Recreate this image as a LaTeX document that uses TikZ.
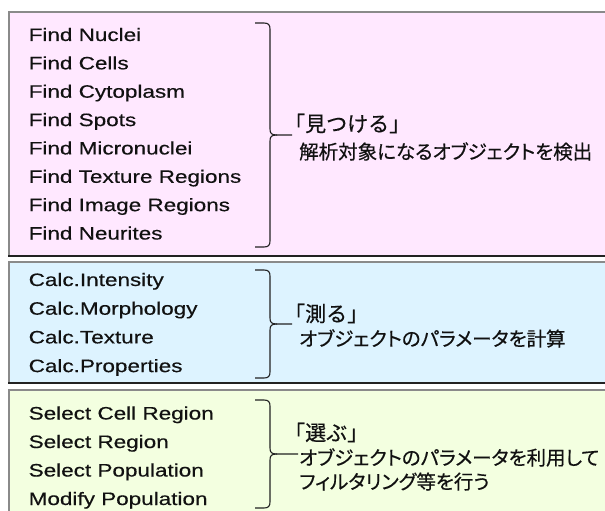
\documentclass[tikz,border=0pt]{standalone}
\usepackage{fontspec}
\setmainfont{Liberation Sans}[FakeStretch=1.25,FakeBold=0.4]
\newfontfamily\jpfont{Noto Sans CJK JP}[RawFeature=+palt,FakeBold=0.5]
\newfontfamily\jpfontfull{Noto Sans CJK JP}[FakeBold=0.5]
\definecolor{pinkfill}{HTML}{FFE8FF}
\definecolor{bluefill}{HTML}{DDF3FF}
\definecolor{greenfill}{HTML}{F3FFE0}
\definecolor{edgegray}{HTML}{8A8A8A}
\definecolor{edgedark}{HTML}{222222}
\definecolor{inkcol}{HTML}{111111}
\newcommand\drawbrace[4]{%
  \draw[bracestyle] (255,#1) -- (264,#1) .. controls (268.5,#1) and (270,{#1+2}) .. (270,{#1+6})
    -- (270,{#2-6}) .. controls (270,{#2-1.5}) and (271.5,#2) .. (277,#2) -- (#4,#2);
  \draw[bracestyle] (277,#2) .. controls (271.5,#2) and (270,{#2+1.5}) .. (270,{#2+6})
    -- (270,{#3-6}) .. controls (270,{#3-2}) and (268.5,#3) .. (264,#3) -- (255,#3);}
\begin{document}
\begin{tikzpicture}[x=1pt,y=-1pt,
  item/.style={anchor=base west,inner sep=0pt,text=inkcol,font=\fontsize{18}{21}\selectfont},
  jptext/.style={anchor=base west,inner sep=0pt,text=inkcol,font=\jpfont\fontsize{19.5}{23}\selectfont},
  jphead/.style={anchor=base west,inner sep=0pt,text=inkcol,font=\jpfontfull\fontsize{21}{24}\selectfont},
  topedge/.style={draw=edgegray,line width=1.6pt},
  botedge/.style={draw=edgedark,line width=1.6pt},
  bracestyle/.style={draw=edgedark,line width=1.1pt}]
\useasboundingbox (0,0) rectangle (605,511);
\fill[white] (0,0) rectangle (605,511);
% boxes
\fill[pinkfill] (9,12) rectangle (620,256);
\draw[topedge] (9,256) -- (9,12) -- (620,12);
\draw[botedge] (8.2,256) -- (620,256);
\fill[bluefill] (9,262) rectangle (620,383);
\draw[topedge] (9,383) -- (9,262) -- (620,262);
\draw[botedge] (8.2,383) -- (620,383);
\fill[greenfill] (9,390) rectangle (620,530);
\draw[topedge] (9,530) -- (9,390) -- (620,390);
% items
\foreach \t [count=\i] in {Find Nuclei,Find Cells,Find Cytoplasm,Find Spots,Find Micronuclei,Find Texture Regions,Find Image Regions,Find Neurites}
  \node[item] (f\i) at (28.5,{41+28.36*(\i-1)}) {\t};
\foreach \t [count=\i] in {Calc.Intensity,Calc.Morphology,Calc.Texture,Calc.Properties}
  \node[item] (c\i) at (28.5,{286+28.7*(\i-1)}) {\t};
\foreach \t [count=\i] in {Select Cell Region,Select Region,Select Population,Modify Population}
  \node[item] (s\i) at (28.5,{419.5+28.5*(\i-1)}) {\t};
% braces
\drawbrace{23}{135}{247}{292}
\drawbrace{270}{324}{378}{292}
\drawbrace{400}{454}{508}{298}
% descriptions
\node[jphead] (j1a) at (284,131.5) {「見つける」};
\node[jptext] (j1b) at (299,159) {解析対象になるオブジェクトを検出};
\node[jphead] (j2a) at (284,321.5) {「測る」};
\node[jptext] (j2b) at (299,346) {オブジェクトのパラメータを計算};
\node[jphead] (j3a) at (284,440.5) {「選ぶ」};
\node[jptext] (j3b) at (299,465) {オブジェクトのパラメータを利用して};
\node[jptext] (j3c) at (299,489) {フィルタリング等を行う};
\end{tikzpicture}
\end{document}
